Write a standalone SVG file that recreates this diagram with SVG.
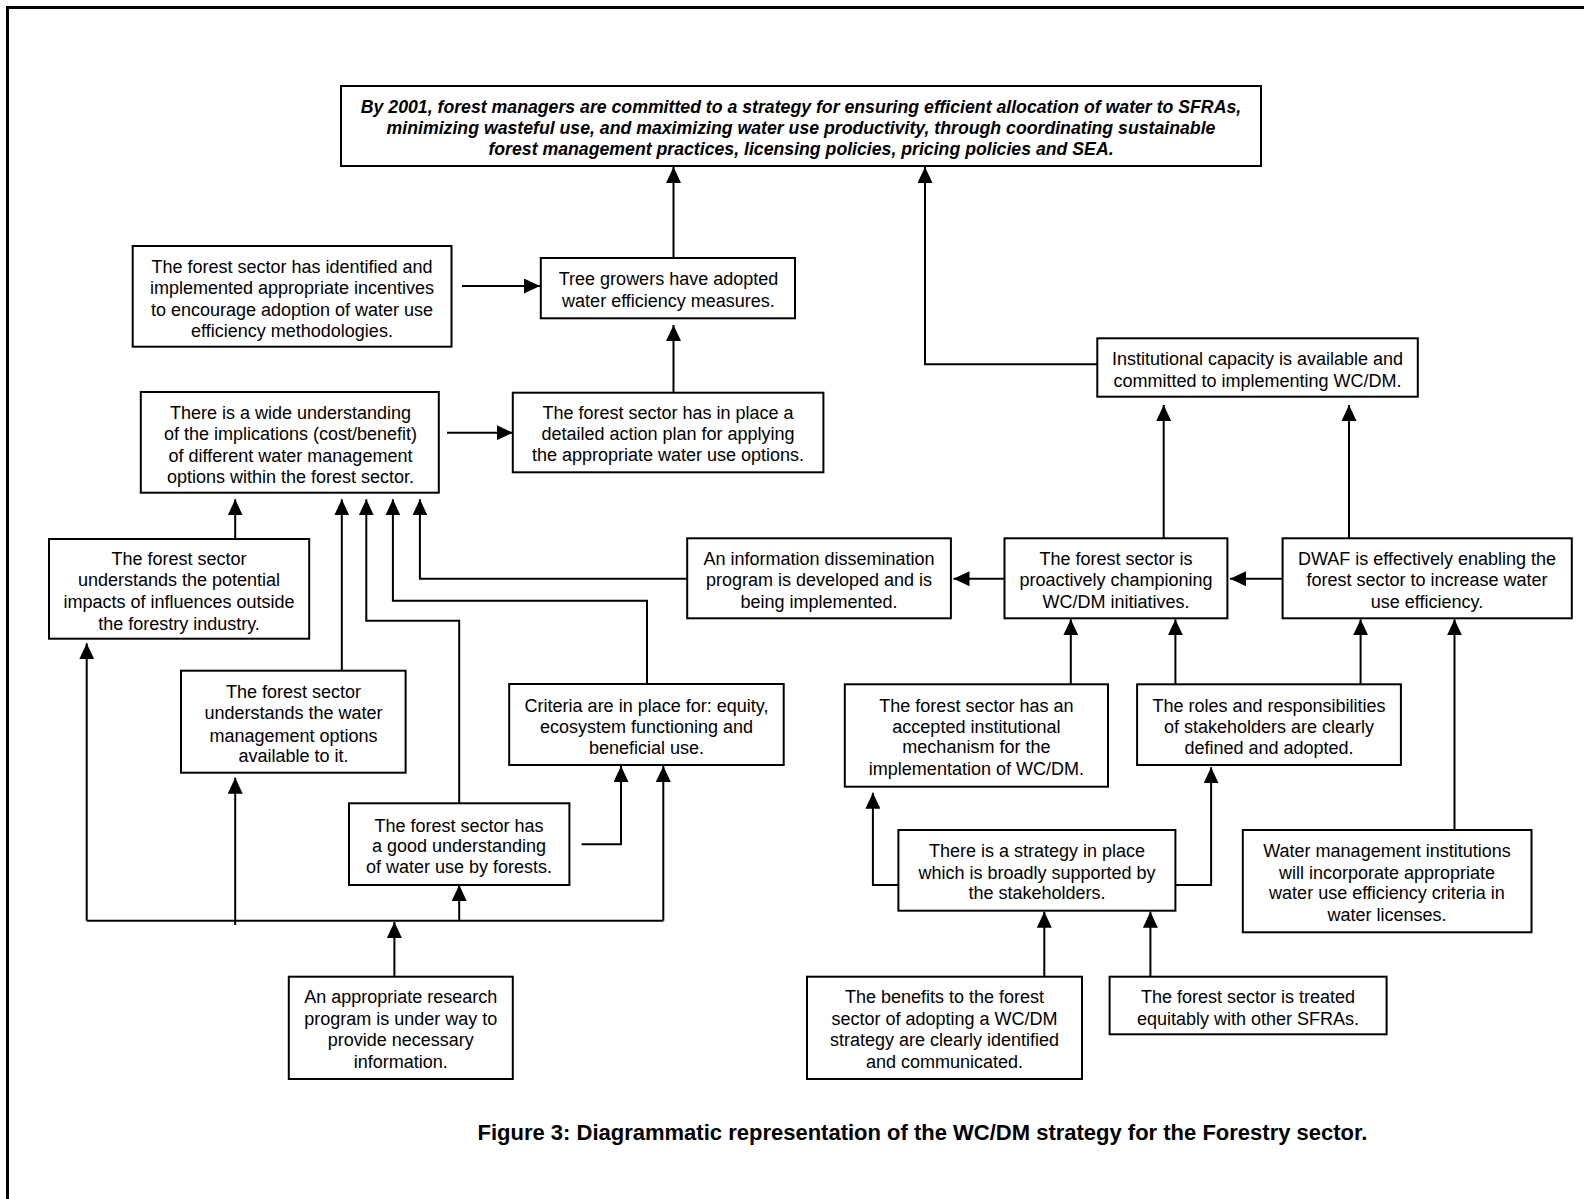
<svg xmlns="http://www.w3.org/2000/svg" width="1584" height="1199" viewBox="0 0 1584 1199">
<style>
.box{fill:#fff;stroke:#000;stroke-width:2}
.t{font-family:"Liberation Sans",Arial,sans-serif;font-size:18px;fill:#000;text-anchor:middle}
.g{font-weight:bold;font-style:italic;font-size:17.7px}
.cap{font-family:"Liberation Sans",Arial,sans-serif;font-size:22px;font-weight:bold;fill:#000;text-anchor:middle}
.c{fill:none;stroke:#000;stroke-width:2;marker-end:url(#ah)}
.l{fill:none;stroke:#000;stroke-width:2}
</style>
<defs>
<marker id="ah" markerUnits="userSpaceOnUse" markerWidth="17" markerHeight="15" refX="16" refY="7.5" orient="auto">
<path d="M0,0 L16,7.5 L0,15 z" fill="#000"/>
</marker>
</defs>
<rect x="0" y="0" width="1584" height="1199" fill="#fff"/>
<path d="M7.5,1199 V7.5 H1584" fill="none" stroke="#000" stroke-width="3"/>

<g id="connectors">
<path class="c" d="M673.5,258 V167"/>
<path class="c" d="M462,286 H540"/>
<path class="c" d="M673.5,392.7 V325"/>
<path class="c" d="M447,432.7 H512.8"/>
<path class="c" d="M1097.3,364.3 H925 V167"/>
<path class="c" d="M1163.7,538.3 V405"/>
<path class="c" d="M1349,538.3 V405"/>
<path class="c" d="M235.2,539 V499.3"/>
<path class="c" d="M341.8,670.7 V499.3"/>
<path class="c" d="M459.2,803.3 V620.7 H366.3 V499.3"/>
<path class="c" d="M647,684 V600.7 H392.9 V499.3"/>
<path class="c" d="M687.2,578.7 H419.9 V499.3"/>
<path class="c" d="M1004.5,578.7 H953.5"/>
<path class="c" d="M1282.6,578.7 H1230"/>
<path class="c" d="M1070.8,684.3 V619.3"/>
<path class="c" d="M1175.4,684.3 V619.3"/>
<path class="c" d="M1360.6,684.3 V619.3"/>
<path class="c" d="M1454.5,830 V619.3"/>
<path class="c" d="M581.6,844.3 H621 V766"/>
<path class="l" d="M86.7,920.7 H663.3"/>
<path class="c" d="M86.7,920.7 V643.3"/>
<path class="c" d="M235.2,925 V777.7"/>
<path class="c" d="M459.2,920.7 V885"/>
<path class="c" d="M663.3,920.7 V766"/>
<path class="c" d="M394.4,976.7 V922"/>
<path class="c" d="M898.4,885 H872.9 V792.7"/>
<path class="c" d="M1175.4,885 H1211.1 V767.3"/>
<path class="c" d="M1044.3,976.7 V911.7"/>
<path class="c" d="M1150.4,976.7 V911.7"/>
</g>

<g id="goal">
<rect class="box" x="341" y="86" width="920" height="80"/>
<text class="t g" x="801" y="112.5">By 2001, forest managers are committed to a strategy for ensuring efficient allocation of water to SFRAs,</text>
<text class="t g" x="801" y="133.5">minimizing wasteful use, and maximizing water use productivity, through coordinating sustainable</text>
<text class="t g" x="801" y="154.5">forest management practices, licensing policies, pricing policies and SEA.</text>
</g>

<g id="incentives">
<rect class="box" x="132.7" y="246" width="318.8" height="100.7"/>
<text class="t" x="292" y="273">The forest sector has identified and</text>
<text class="t" x="292" y="294">implemented appropriate incentives</text>
<text class="t" x="292" y="315.5">to encourage adoption of water use</text>
<text class="t" x="292" y="337">efficiency methodologies.</text>
</g>

<g id="tree-growers">
<rect class="box" x="540.8" y="258" width="254.2" height="60.3"/>
<text class="t" x="668.5" y="285">Tree growers have adopted</text>
<text class="t" x="668.5" y="307">water efficiency measures.</text>
</g>

<g id="wide-understanding">
<rect class="box" x="140.8" y="392" width="298" height="100.7"/>
<text class="t" x="290.5" y="419">There is a wide understanding</text>
<text class="t" x="290.5" y="440">of the implications (cost/benefit)</text>
<text class="t" x="290.5" y="462">of different water management</text>
<text class="t" x="290.5" y="483">options within the forest sector.</text>
</g>

<g id="action-plan">
<rect class="box" x="512.8" y="392.7" width="310.6" height="79.6"/>
<text class="t" x="668" y="419">The forest sector has in place a</text>
<text class="t" x="668" y="440">detailed action plan for applying</text>
<text class="t" x="668" y="461">the appropriate water use options.</text>
</g>

<g id="institutional-capacity">
<rect class="box" x="1097.3" y="338.3" width="320.5" height="58.4"/>
<text class="t" x="1257.5" y="365">Institutional capacity is available and</text>
<text class="t" x="1257.5" y="387">committed to implementing WC/DM.</text>
</g>

<g id="potential-impacts">
<rect class="box" x="49" y="539" width="260.2" height="99.7"/>
<text class="t" x="179" y="565.3">The forest sector</text>
<text class="t" x="179" y="586">understands the potential</text>
<text class="t" x="179" y="607.7">impacts of influences outside</text>
<text class="t" x="179" y="630">the forestry industry.</text>
</g>

<g id="info-dissemination">
<rect class="box" x="687.2" y="538.3" width="263.7" height="80"/>
<text class="t" x="819" y="565">An information dissemination</text>
<text class="t" x="819" y="586">program is developed and is</text>
<text class="t" x="819" y="607.5">being implemented.</text>
</g>

<g id="championing">
<rect class="box" x="1004.5" y="538.3" width="222.9" height="80"/>
<text class="t" x="1116" y="565">The forest sector is</text>
<text class="t" x="1116" y="586">proactively championing</text>
<text class="t" x="1116" y="607.5">WC/DM initiatives.</text>
</g>

<g id="dwaf">
<rect class="box" x="1282.6" y="538.3" width="289.2" height="80"/>
<text class="t" x="1427" y="565">DWAF is effectively enabling the</text>
<text class="t" x="1427" y="586">forest sector to increase water</text>
<text class="t" x="1427" y="607.5">use efficiency.</text>
</g>

<g id="water-options">
<rect class="box" x="181" y="670.7" width="224.6" height="102"/>
<text class="t" x="293.5" y="697.7">The forest sector</text>
<text class="t" x="293.5" y="719.3">understands the water</text>
<text class="t" x="293.5" y="742">management options</text>
<text class="t" x="293.5" y="762">available to it.</text>
</g>

<g id="criteria">
<rect class="box" x="509.2" y="684" width="274.5" height="81"/>
<text class="t" x="646.5" y="712">Criteria are in place for: equity,</text>
<text class="t" x="646.5" y="733.3">ecosystem functioning and</text>
<text class="t" x="646.5" y="753.7">beneficial use.</text>
</g>

<g id="institutional-mechanism">
<rect class="box" x="844.8" y="684.3" width="263.2" height="102.4"/>
<text class="t" x="976.4" y="711.7">The forest sector has an</text>
<text class="t" x="976.4" y="733.3">accepted institutional</text>
<text class="t" x="976.4" y="753.3">mechanism for the</text>
<text class="t" x="976.4" y="775.3">implementation of WC/DM.</text>
</g>

<g id="roles">
<rect class="box" x="1137.1" y="684.3" width="263.8" height="80.7"/>
<text class="t" x="1269" y="712">The roles and responsibilities</text>
<text class="t" x="1269" y="733.3">of stakeholders are clearly</text>
<text class="t" x="1269" y="753.7">defined and adopted.</text>
</g>

<g id="good-understanding">
<rect class="box" x="349" y="803.3" width="220.4" height="81.7"/>
<text class="t" x="459" y="831.7">The forest sector has</text>
<text class="t" x="459" y="851.7">a good understanding</text>
<text class="t" x="459" y="873.3">of water use by forests.</text>
</g>

<g id="strategy">
<rect class="box" x="898.4" y="830" width="277" height="80.7"/>
<text class="t" x="1037" y="857">There is a strategy in place</text>
<text class="t" x="1037" y="879.3">which is broadly supported by</text>
<text class="t" x="1037" y="899.3">the stakeholders.</text>
</g>

<g id="water-institutions">
<rect class="box" x="1242.8" y="830" width="288.7" height="102.3"/>
<text class="t" x="1387" y="857">Water management institutions</text>
<text class="t" x="1387" y="879.3">will incorporate appropriate</text>
<text class="t" x="1387" y="899.3">water use efficiency criteria in</text>
<text class="t" x="1387" y="921">water licenses.</text>
</g>

<g id="research">
<rect class="box" x="288.8" y="976.7" width="224" height="102.3"/>
<text class="t" x="400.8" y="1003.3">An appropriate research</text>
<text class="t" x="400.8" y="1025.3">program is under way to</text>
<text class="t" x="400.8" y="1046">provide necessary</text>
<text class="t" x="400.8" y="1067.7">information.</text>
</g>

<g id="benefits">
<rect class="box" x="807" y="976.7" width="275" height="102.3"/>
<text class="t" x="944.5" y="1003.3">The benefits to the forest</text>
<text class="t" x="944.5" y="1025.3">sector of adopting a WC/DM</text>
<text class="t" x="944.5" y="1046">strategy are clearly identified</text>
<text class="t" x="944.5" y="1067.7">and communicated.</text>
</g>

<g id="equitably">
<rect class="box" x="1109.6" y="976.7" width="277" height="57.6"/>
<text class="t" x="1248" y="1003.3">The forest sector is treated</text>
<text class="t" x="1248" y="1025">equitably with other SFRAs.</text>
</g>

<text class="cap" x="922.5" y="1139.5">Figure 3: Diagrammatic representation of the WC/DM strategy for the Forestry sector.</text>
</svg>
